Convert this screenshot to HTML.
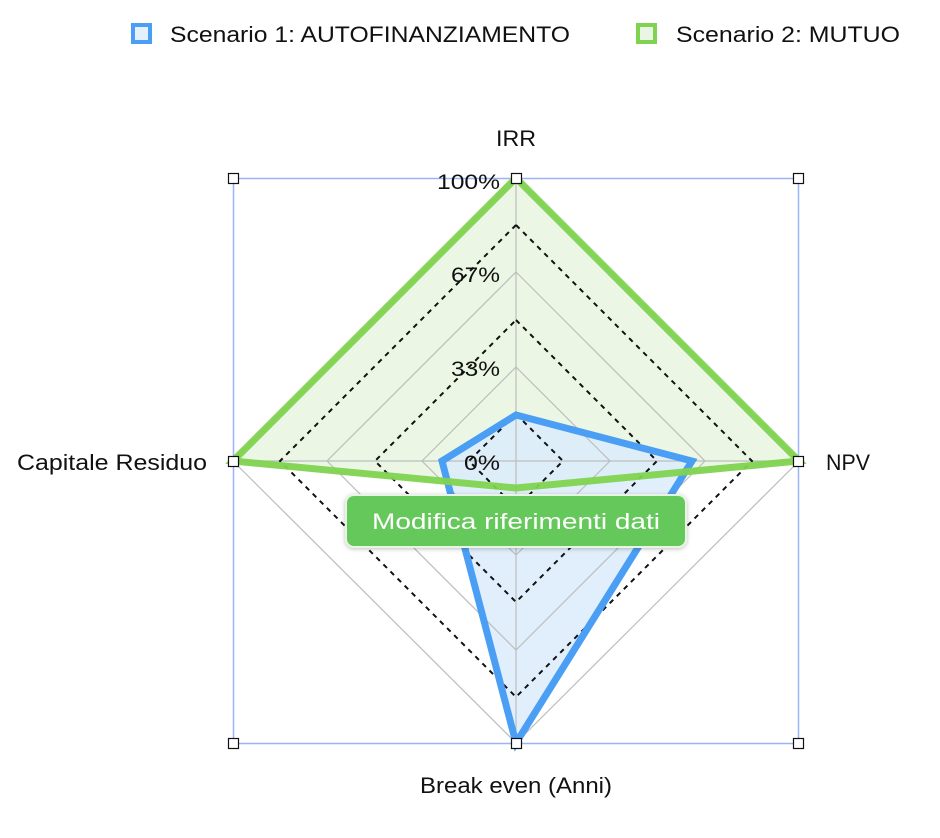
<!DOCTYPE html>
<html><head><meta charset="utf-8"><style>
html,body{margin:0;padding:0;background:#fff;width:940px;height:838px;overflow:hidden;font-family:"Liberation Sans",sans-serif}
</style></head><body>
<svg width="940" height="838" viewBox="0 0 940 838" xmlns="http://www.w3.org/2000/svg" font-family="Liberation Sans, sans-serif">
<defs>
<filter id="sh" x="-10%" y="-30%" width="120%" height="160%"><feDropShadow dx="0" dy="1" stdDeviation="2" flood-color="#000" flood-opacity="0.25"/></filter>
</defs>
<!-- legend -->
<rect x="133" y="25" width="17" height="17" fill="#e4f0fc" stroke="#4a9ff5" stroke-width="4"/>
<text x="170" y="42" font-size="22" fill="#111" textLength="400" lengthAdjust="spacingAndGlyphs">Scenario 1: AUTOFINANZIAMENTO</text>
<rect x="638" y="25" width="17" height="17" fill="#eaf6e4" stroke="#7fd350" stroke-width="4"/>
<text x="676" y="42" font-size="22" fill="#111" textLength="224" lengthAdjust="spacingAndGlyphs">Scenario 2: MUTUO</text>
<!-- selection box -->
<rect x="233.5" y="178.5" width="565" height="565" fill="none" stroke="#9ab4f5" stroke-width="1.5"/>
<polygon points="516,178 799,461 516,488 233,461" fill="#ebf7e4"/>
<polygon points="516,415 692,461 516,743 442,461" fill="#dcecfb" fill-opacity="0.85"/>
<g fill="none" stroke="#bdbdbd" stroke-width="1.2">
<polygon points="516,367 610,461 516,555 422,461"/>
<polygon points="516,272 705,461 516,650 327,461"/>
<polygon points="516,178 799,461 516,743 233,461"/>
<line x1="516" y1="178" x2="516" y2="743"/>
<line x1="233" y1="461" x2="799" y2="461"/>
</g>
<g fill="none" stroke="#111" stroke-width="2" stroke-dasharray="5,5">
<polygon points="516,414 563,461 516,508 469,461"/>
<polygon points="516,320 657,461 516,602 375,461"/>
<polygon points="516,225 752,461 516,697 280,461"/>
</g>
<polygon points="516,415 692,461 516,743 442,461" fill="none" stroke="#4a9ff5" stroke-width="7"/>
<polygon points="516,178 799,461 516,488 233,461" fill="none" stroke="#7fd350" stroke-width="7" stroke-opacity="0.95"/>
<g font-size="21" fill="#111">
<text x="437" y="189" textLength="63" lengthAdjust="spacingAndGlyphs">100%</text>
<text x="451" y="282" textLength="49" lengthAdjust="spacingAndGlyphs">67%</text>
<text x="451" y="376" textLength="49" lengthAdjust="spacingAndGlyphs">33%</text>
<text x="464" y="470" textLength="36" lengthAdjust="spacingAndGlyphs">0%</text>
</g>
<g font-size="22" fill="#111">
<text x="496" y="146" textLength="40" lengthAdjust="spacingAndGlyphs">IRR</text>
<text x="826" y="470" textLength="44" lengthAdjust="spacingAndGlyphs">NPV</text>
<text x="17" y="470" textLength="190" lengthAdjust="spacingAndGlyphs">Capitale Residuo</text>
<text x="420" y="793" textLength="192" lengthAdjust="spacingAndGlyphs">Break even (Anni)</text>
</g>
<g fill="#fff" stroke="#111" stroke-width="1.2">
<rect x="228.5" y="173.5" width="10" height="10"/>
<rect x="511.5" y="173.5" width="10" height="10"/>
<rect x="793.5" y="173.5" width="10" height="10"/>
<rect x="228.5" y="456.5" width="10" height="10"/>
<rect x="793.5" y="456.5" width="10" height="10"/>
<rect x="228.5" y="738.5" width="10" height="10"/>
<rect x="511.5" y="738.5" width="10" height="10"/>
<rect x="793.5" y="738.5" width="10" height="10"/>
</g>
<rect x="346" y="495" width="340" height="52" rx="8" fill="#65c85a" stroke="#e8f5e4" stroke-width="2" filter="url(#sh)"/>
<text x="372" y="529" font-size="22" fill="#fff" textLength="288" lengthAdjust="spacingAndGlyphs">Modifica riferimenti dati</text>
</svg>
</body></html>
